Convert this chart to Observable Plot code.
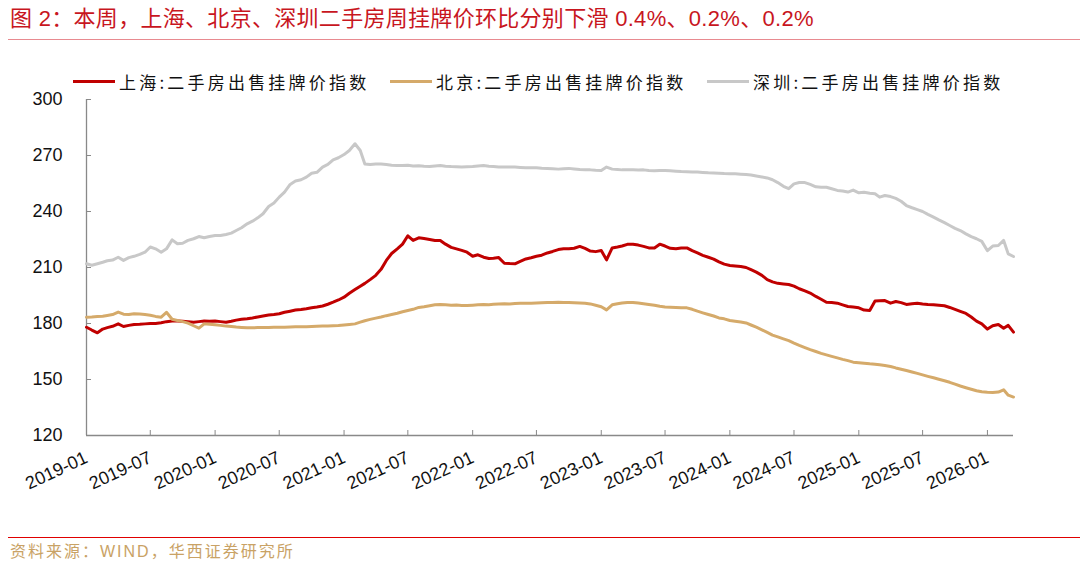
<!DOCTYPE html>
<html><head><meta charset="utf-8">
<script src="https://cdn.jsdelivr.net/npm/d3@7"></script>
<script src="https://cdn.jsdelivr.net/npm/@observablehq/plot@0.6"></script>
<style>
html,body{margin:0;padding:0;background:#fff;}
body{width:1080px;height:565px;position:relative;overflow:hidden;font-family:"Liberation Sans","Noto Sans CJK SC",sans-serif;}
#title{position:absolute;left:10px;top:6px;font-size:22px;line-height:26px;color:#c8161e;white-space:nowrap;letter-spacing:0.3px;}
#topline{position:absolute;left:8px;width:1072px;top:39px;height:0;border-top:1px solid #e88a90;}
#legend{position:absolute;top:69px;left:0;width:1080px;height:24px;}
.item{position:absolute;top:0;height:24px;display:flex;align-items:center;white-space:nowrap;}
.swatch{display:inline-block;width:42px;height:3px;margin-right:4px;}
.lab{font-family:"Noto Sans CJK SC",sans-serif;font-size:17px;letter-spacing:3.2px;color:#111;}
#chart{position:absolute;left:0;top:90px;}
#botline{position:absolute;left:8px;width:1072px;top:537px;height:0;border-top:1.5px solid #e00000;}
#caption{position:absolute;left:10px;top:541px;font-size:16px;line-height:22px;letter-spacing:2px;color:#c9a265;white-space:nowrap;}
</style>
</head><body>
<div id="title">图 2：本周，上海、北京、深圳二手房周挂牌价环比分别下滑 0.4%、0.2%、0.2%</div>
<div id="topline"></div>
<div id="legend"></div>
<div id="chart"></div>
<div id="botline"></div>
<div id="caption">资料来源：WIND，华西证券研究所</div>
<script>
// Series names and colors
const seriesNames = ["上海:二手房出售挂牌价指数", "北京:二手房出售挂牌价指数", "深圳:二手房出售挂牌价指数"];
const seriesColors = ["#c00000", "#d5aa6a", "#c8c8c8"];
const legendLeft = [73, 390, 707];

// Axis ticks
const yTicks = [120, 150, 180, 210, 240, 270, 300];
const xTickLabels = ["2019-01","2019-07","2020-01","2020-07","2021-01","2021-07","2022-01","2022-07","2023-01","2023-07","2024-01","2024-07","2025-01","2025-07","2026-01"];
const xStart = "2019-01-01";
const xEnd = "2026-03-16";

// Observation dates: 1st and 16th of each month, 2019-01 .. 2026-03
const dates = [];
for (let k = 0; k < 87; k++) {
  dates.push(new Date(Date.UTC(2019, k, 1)));
  dates.push(new Date(Date.UTC(2019, k, 16)));
}

// 上海 (Shanghai)
const shanghai = [
  178, 176.5, 175, 177, 177.8, 178.5, 179.8, 178.4, 179, 179.5,
  179.6, 179.8, 180, 180, 180.4, 181, 181.3, 181.3, 181.2, 181,
  180.7, 181, 181.3, 181.2, 181.3, 181, 180.7, 181.2, 181.8, 182.3,
  182.6, 183, 183.5, 184, 184.5, 184.8, 185.2, 186, 186.6, 187.2,
  187.5, 187.9, 188.4, 188.8, 189.4, 190.3, 191.4, 192.6, 194.1, 196.2,
  198.2, 200, 201.5, 203.5, 205.8, 209, 213.8, 217.5, 220, 222.5,
  227, 224.5, 225.9, 225.5, 225, 224.5, 224.5, 222.5, 220.8, 220,
  219.2, 218.2, 216, 216.8, 215.5, 214.8, 215, 215.3, 212.3, 212.1,
  212, 213.3, 214.6, 215.2, 216, 216.6, 217.8, 218.6, 219.6, 220,
  220, 220.3, 221.3, 220.2, 218.8, 218.5, 219.1, 214.1, 220.5, 221,
  221.5, 222.4, 222.5, 222, 221.3, 220.5, 220.5, 222.5, 221.5, 220.3,
  220, 220.4, 220.5, 219, 217.8, 216.5, 215.5, 214.5, 213, 211.8,
  211.1, 210.8, 210.5, 210, 208.8, 207.5, 205.8, 203.5, 202.3, 201.5,
  201.2, 200.9, 200, 198.6, 197.5, 196.3, 194.5, 193, 191.4, 191.2,
  190.9, 190, 189.1, 188.8, 188.4, 187.2, 187, 192, 192.2, 192.3,
  190.9, 191.8, 191.2, 190.2, 190.6, 190.9, 190.5, 190.2, 190.1, 189.8,
  189.5, 188.6, 187.6, 186.5, 185.4, 183.5, 181.3, 179.8, 177, 178.8,
  179.5, 177.5, 179, 175.4
];

// 北京 (Beijing)
const beijing = [
  183.4, 183.5, 183.7, 183.9, 184.3, 184.8, 186.1, 185, 184.8, 185.2,
  185.1, 184.8, 184.4, 183.8, 183.4, 186, 182.3, 181.6, 181, 180.2,
  178.8, 177.5, 179.8, 179.6, 179.3, 179, 178.6, 178.4, 178.1, 177.9,
  177.7, 177.7, 177.8, 177.8, 177.9, 178, 178, 178, 178.1, 178.2,
  178.2, 178.3, 178.4, 178.5, 178.6, 178.7, 178.8, 178.9, 179.2, 179.5,
  179.8, 180.7, 181.5, 182.2, 182.9, 183.5, 184.2, 184.8, 185.5, 186.3,
  187, 187.6, 188.6, 189, 189.5, 190, 190.2, 190, 189.8, 189.9,
  189.7, 189.6, 189.8, 190, 190.2, 190.1, 190.3, 190.5, 190.6, 190.5,
  190.7, 190.8, 190.9, 190.9, 191, 191.1, 191.2, 191.3, 191.4, 191.3,
  191.2, 191.1, 191, 190.9, 190.5, 189.8, 189, 187.3, 190, 190.6,
  191, 191.3, 191.3, 191, 190.6, 190.2, 189.8, 189.2, 188.8, 188.7,
  188.6, 188.5, 188.4, 187.6, 186.6, 185.7, 184.8, 184, 183, 182.5,
  181.6, 181.2, 180.8, 180.3, 179.2, 178, 176.6, 175.2, 173.8, 172.8,
  171.8, 170.8, 169.5, 168.3, 167.1, 166, 165, 164, 163.2, 162.4,
  161.6, 160.8, 160.1, 159.3, 159, 158.7, 158.4, 158.2, 157.9, 157.5,
  157, 156.2, 155.5, 154.8, 154, 153.3, 152.5, 151.7, 150.9, 150.1,
  149.3, 148.5, 147.5, 146.5, 145.6, 144.8, 144, 143.4, 143.2, 143.1,
  143.3, 144.5, 141.6, 140.6
];

// 深圳 (Shenzhen)
const shenzhen = [
  212, 211.2, 212, 212.8, 213.6, 214, 215.5, 213.8, 215.3, 216,
  217, 218.2, 221, 220, 218.2, 220, 224.8, 222.7, 223, 224.5,
  225.4, 226.6, 225.9, 226.6, 227.1, 227.1, 227.7, 228.4, 229.8, 231.3,
  233.4, 234.8, 236.6, 238.8, 242.7, 244.5, 247.7, 250.4, 254.5, 256.3,
  257, 258.4, 260.5, 261, 263.8, 265.2, 267.7, 268.8, 270.5, 272.7,
  276.3, 272.7, 265.5, 265.2, 265.5, 265.5, 265.2, 264.8, 264.6, 264.6,
  264.8, 264.4, 264.5, 264.2, 264.1, 264.4, 264.6, 264.3, 264.1, 264,
  263.8, 264, 264.1, 264.4, 264.6, 264.3, 264.1, 263.9, 263.8, 263.9,
  263.8, 263.6, 263.4, 263.5, 263.4, 263.2, 263.1, 262.9, 262.7, 262.9,
  263.1, 262.8, 262.5, 262.4, 262.3, 262.1, 262, 263.8, 262.7, 262.5,
  262.3, 262.4, 262.3, 262.2, 262.3, 262, 261.8, 261.9, 262, 261.8,
  261.6, 261.4, 261.3, 261.2, 261.1, 260.9, 260.7, 260.6, 260.5, 260.3,
  260.2, 260.2, 260, 259.8, 259.5, 259, 258.5, 258, 257, 255.5,
  253.5, 252.2, 254.8, 255.5, 255.5, 254.5, 253.2, 253, 253, 252.2,
  251.3, 251, 250.4, 251.5, 250, 250.3, 249.8, 249.5, 247.7, 248.6,
  248, 247, 245.5, 243.2, 242, 241, 240, 238.5, 237, 235.5,
  234, 232.5, 231, 229.8, 228, 226.5, 225.4, 224, 219, 221.5,
  221.8, 224.5, 217.3, 215.9
];

const seriesValues = [shanghai, beijing, shenzhen];
const rows = [];
seriesValues.forEach((vals, s) => {
  vals.forEach((v, i) => rows.push({date: dates[i], value: v, series: seriesNames[s]}));
});

// Legend
const legend = document.getElementById("legend");
seriesNames.forEach((name, i) => {
  const it = document.createElement("div");
  it.className = "item";
  it.style.left = legendLeft[i] + "px";
  it.innerHTML = `<span class="swatch" style="background:${seriesColors[i]}"></span><span class="lab">${name}</span>`;
  legend.appendChild(it);
});

const parseYM = d3.utcParse("%Y-%m");
const xTickDates = xTickLabels.map(parseYM);
const x0 = d3.utcParse("%Y-%m-%d")(xStart);
const x1 = d3.utcParse("%Y-%m-%d")(xEnd);

const W = 1080, H = 430, mL = 86, mR = 67, mT = 9, mB = 85;
const plotW = W - mL - mR, plotH = H - mT - mB;
const axisColor = "#898989";

const chart = Plot.plot({
  width: W, height: H,
  marginLeft: mL, marginRight: mR, marginTop: mT, marginBottom: mB,
  style: {fontFamily: "'Liberation Sans', Arial, sans-serif", fontSize: "18px", color: "#111", background: "transparent", overflow: "visible"},
  x: {type: "utc", domain: [x0, x1], axis: null},
  y: {domain: [120, 300], axis: null},
  color: {domain: seriesNames, range: seriesColors},
  marks: [
    Plot.tickX(xTickDates, {x: d => d, insetTop: plotH - 5, stroke: axisColor, strokeWidth: 1}),
    Plot.tickY(yTicks, {y: d => d, insetRight: plotW - 5, stroke: axisColor, strokeWidth: 1}),
    Plot.ruleX([x0], {stroke: axisColor, strokeWidth: 1.3}),
    Plot.ruleY([120], {stroke: axisColor, strokeWidth: 1.3}),
    Plot.text(yTicks, {x: x0, y: d => d, text: d => String(d), textAnchor: "end", dx: -24, fontSize: 18, fill: "#111"}),
    Plot.text(xTickDates, {x: d => d, y: 120, text: (d, i) => xTickLabels[i], textAnchor: "end", rotate: -25, dx: 0, dy: 21, fontSize: 18, fill: "#111"}),
    Plot.line(rows, {x: "date", y: "value", z: "series", stroke: "series", strokeWidth: 3, strokeLinejoin: "round"})
  ]
});
document.getElementById("chart").appendChild(chart);
</script>
</body></html>
